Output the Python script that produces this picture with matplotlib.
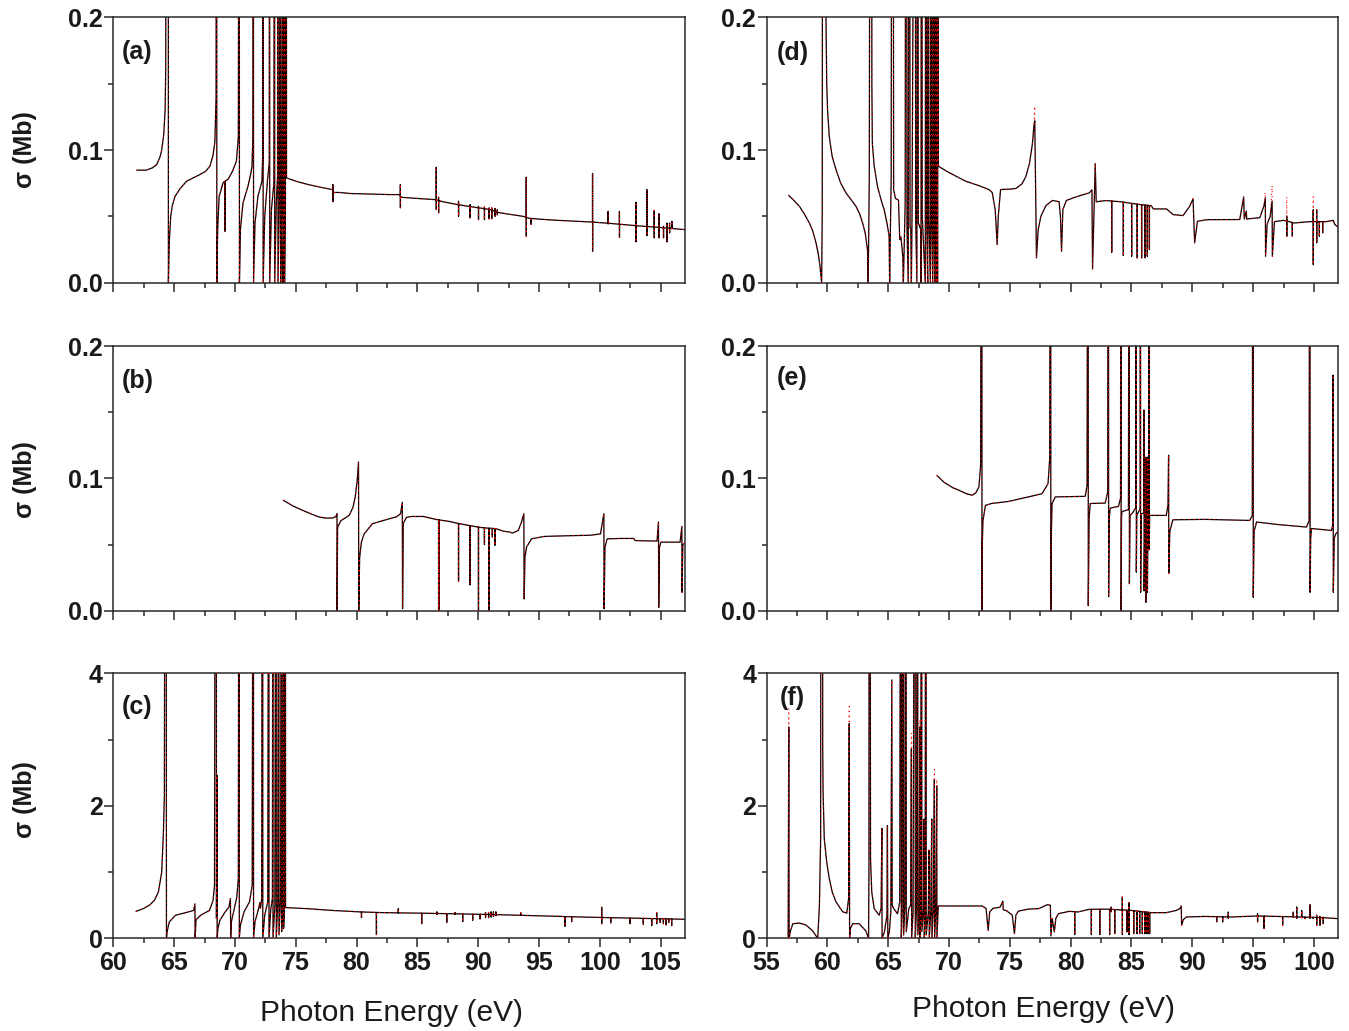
import matplotlib
matplotlib.use('Agg')
import matplotlib.pyplot as plt
import numpy as np
from matplotlib.ticker import MultipleLocator, FormatStrFormatter

plt.rcParams['font.family'] = ['Liberation Sans', 'DejaVu Sans']

# Spectra are stored as nodes (E [eV], sigma [Mb]) along the smooth parts and the
# broad Fano profiles; values above the axis top stand for resonances running off-scale.
# Narrow lines are (E, first extreme, second extreme) and are spliced into the nodes.

# ---- (a) ----
a_nodes = [(61.94, 0.0848), (62.70, 0.0848), (63.20, 0.0865), (63.57, 0.089), (63.85, 0.095),
           (63.98, 0.100), (64.15, 0.112), (64.26, 0.130), (64.31, 0.160), (64.34, 0.5),
           (64.52, 0.5), (64.53, 0.0), (64.60, 0.030), (64.72, 0.050), (64.85, 0.058),
           (65.07, 0.065), (65.50, 0.071), (66.03, 0.0765), (67.12, 0.0815), (67.60, 0.084),
           (67.94, 0.0878), (68.20, 0.096), (68.35, 0.106), (68.45, 0.140), (68.48, 0.5),
           (68.50, 0.5), (68.51, 0.0), (68.58, 0.040), (68.70, 0.065), (69.03, 0.0755),
           (69.44, 0.078), (69.80, 0.084), (70.12, 0.0916), (70.28, 0.110), (70.34, 0.5),
           (70.36, 0.5), (70.37, 0.0), (70.45, 0.040), (70.66, 0.060), (71.07, 0.0727),
           (71.30, 0.082), (71.40, 0.0878), (71.48, 0.110), (71.51, 0.5), (71.52, 0.5),
           (71.53, 0.0), (71.65, 0.045), (71.89, 0.065), (72.22, 0.0765), (72.28, 0.095),
           (72.30, 0.5), (72.31, 0.5), (72.32, 0.0), (72.45, 0.050), (72.67, 0.0765),
           (72.82, 0.090), (72.85, 0.5), (72.86, 0.0), (73.00, 0.055), (73.20, 0.075),
           (73.26, 0.5), (73.27, 0.0), (73.40, 0.060), (73.50, 0.080), (73.53, 0.5),
           (73.54, 0.0), (73.65, 0.060), (73.75, 0.5), (73.76, 0.0), (73.86, 0.062),
           (73.94, 0.5), (73.95, 0.0), (74.02, 0.060), (74.07, 0.5), (74.08, 0.0),
           (74.15, 0.060), (74.21, 0.5), (74.23, 0.5), (74.24, 0.079), (75.00, 0.0765),
           (76.00, 0.074), (77.00, 0.072), (78.00, 0.0702), (78.10, 0.068), (78.60, 0.068),
           (79.50, 0.0672), (81.00, 0.0668), (82.70, 0.0664), (83.55, 0.0664), (83.65, 0.0644),
           (84.50, 0.0638), (85.50, 0.0632), (86.45, 0.0626), (87.10, 0.061), (88.25, 0.0589),
           (89.60, 0.057), (91.00, 0.0551), (91.60, 0.053), (92.60, 0.0515), (93.70, 0.050),
           (94.20, 0.0485), (95.20, 0.0478), (96.50, 0.047), (97.70, 0.0465), (99.20, 0.0458),
           (100.70, 0.0448), (101.95, 0.0438), (103.20, 0.0428), (104.70, 0.0418),
           (105.70, 0.041), (107.00, 0.040)]
a_lines = [(69.17, 0.0387, 0.0387), (78.05, 0.074, 0.061), (83.60, 0.074, 0.0564),
           (86.55, 0.087, 0.0551), (86.74, 0.0645, 0.0526), (88.38, 0.0614, 0.050),
           (89.33, 0.0589, 0.0488), (90.02, 0.0576, 0.0475), (90.51, 0.0571, 0.0475),
           (90.89, 0.0564, 0.0481), (91.11, 0.0564, 0.0481), (91.38, 0.056, 0.050),
           (91.57, 0.055, 0.051), (93.95, 0.0795, 0.035), (94.33, 0.0485, 0.044),
           (99.40, 0.0823, 0.0236), (100.68, 0.0538, 0.0442), (101.61, 0.0538, 0.0342),
           (102.97, 0.0606, 0.0307), (103.87, 0.0702, 0.0355), (104.47, 0.0544, 0.0337),
           (104.86, 0.052, 0.0337), (105.23, 0.0425, 0.0337), (105.51, 0.045, 0.0307),
           (105.73, 0.045, 0.0375), (105.92, 0.0463, 0.0413)]

# ---- (b) ----
b_nodes = [(74.00, 0.0833), (74.80, 0.079), (75.57, 0.0758), (76.30, 0.073), (76.94, 0.0707),
           (77.50, 0.070), (78.03, 0.070), (78.30, 0.0712), (78.39, 0.0733), (78.40, 0.0),
           (78.44, 0.063), (78.71, 0.068), (79.39, 0.072), (79.70, 0.078), (79.89, 0.086),
           (80.05, 0.0985), (80.16, 0.1124), (80.18, 0.0), (80.25, 0.040), (80.40, 0.052),
           (80.62, 0.058), (81.30, 0.0657), (82.40, 0.0687), (83.30, 0.071), (83.62, 0.0733),
           (83.76, 0.082), (83.78, 0.0015), (83.84, 0.066), (84.10, 0.0705), (84.50, 0.0712),
           (85.50, 0.0712), (86.60, 0.0688), (87.60, 0.0675), (88.30, 0.066), (89.25, 0.0644),
           (90.10, 0.063), (90.60, 0.0625), (91.45, 0.062), (92.06, 0.0601), (92.61, 0.0594),
           (92.80, 0.0586), (93.29, 0.0606), (93.56, 0.067), (93.75, 0.0733), (93.78, 0.0089),
           (93.84, 0.040), (93.97, 0.048), (94.38, 0.0543), (95.40, 0.0561), (97.20, 0.0566),
           (99.20, 0.057), (100.05, 0.058), (100.33, 0.0733), (100.35, 0.0015), (100.42, 0.048),
           (100.60, 0.0543), (101.70, 0.0546), (102.78, 0.0546), (102.90, 0.053),
           (103.70, 0.0528), (104.70, 0.0526), (104.82, 0.067), (104.84, 0.0025),
           (104.90, 0.048), (105.02, 0.0518), (106.60, 0.0518), (106.74, 0.0637),
           (106.76, 0.0139), (106.82, 0.050), (107.00, 0.0511)]
b_lines = [(86.74, 0.0, 0.0), (86.78, 0.0, 0.0), (88.38, 0.0222, 0.0222), (89.33, 0.0194, 0.0194),
           (90.02, 0.0, 0.0), (90.51, 0.050, 0.050), (90.89, 0.0, 0.0), (91.16, 0.0556, 0.0556),
           (91.38, 0.0493, 0.0493)]

# ---- (c) ----
c_nodes = [(61.88, 0.408), (62.50, 0.45), (63.03, 0.508), (63.40, 0.58), (63.71, 0.70),
           (63.98, 1.0), (64.12, 1.6), (64.20, 2.16), (64.26, 10), (64.34, 10), (64.37, 0.0),
           (64.42, 0.10), (64.60, 0.246), (65.10, 0.347), (65.80, 0.38), (66.60, 0.42),
           (66.71, 0.52), (66.73, 0.0), (66.80, 0.28), (67.20, 0.35), (67.90, 0.42),
           (68.20, 0.57), (68.32, 0.80), (68.40, 10), (68.47, 10), (68.48, 0.3), (68.52, 2.46),
           (68.54, 0.0), (68.60, 0.15), (68.76, 0.27), (69.20, 0.40), (69.50, 0.47),
           (69.63, 0.60), (69.65, 0.0), (69.70, 0.24), (69.95, 0.45), (70.15, 0.62),
           (70.28, 0.9), (70.33, 10), (70.35, 10), (70.36, 0.0), (70.45, 0.20), (70.75, 0.40),
           (71.20, 0.55), (71.42, 0.80), (71.50, 10), (71.52, 10), (71.53, 0.0), (71.65, 0.25),
           (71.95, 0.45), (72.05, 0.54), (72.10, 0.45), (72.20, 0.60), (72.26, 10),
           (72.28, 10), (72.29, 0.0), (72.45, 0.35), (72.70, 0.55), (72.79, 10), (72.80, 0.0),
           (72.95, 0.45), (73.08, 0.60), (73.12, 10), (73.13, 0.0), (73.28, 0.50),
           (73.39, 10), (73.40, 0.0), (73.52, 0.55), (73.61, 10), (73.62, 0.05), (73.75, 0.60),
           (73.83, 10), (73.84, 0.10), (73.94, 0.55), (73.99, 10), (74.00, 0.15), (74.08, 0.50),
           (74.13, 10), (74.15, 10), (74.16, 0.463), (76.00, 0.447), (78.03, 0.42),
           (80.00, 0.40), (82.00, 0.388), (85.00, 0.38), (88.00, 0.37), (91.50, 0.357),
           (95.00, 0.34), (98.70, 0.32), (102.50, 0.305), (107.00, 0.287)]
c_lines = [(80.40, 0.312, 0.312), (81.63, 0.056, 0.056), (83.43, 0.448, 0.38), (85.35, 0.22, 0.22),
           (86.60, 0.40, 0.36), (87.41, 0.24, 0.24), (88.10, 0.39, 0.36), (88.72, 0.25, 0.25),
           (89.54, 0.27, 0.27), (90.15, 0.29, 0.29), (90.60, 0.39, 0.31), (90.85, 0.39, 0.31),
           (91.05, 0.40, 0.32), (91.25, 0.40, 0.33), (91.45, 0.40, 0.34), (93.49, 0.39, 0.35),
           (97.13, 0.18, 0.18), (97.68, 0.25, 0.30), (100.15, 0.47, 0.22), (100.89, 0.23, 0.23),
           (102.48, 0.22, 0.22), (103.57, 0.21, 0.21), (104.26, 0.19, 0.19), (104.67, 0.39, 0.22),
           (104.96, 0.24, 0.24), (105.22, 0.22, 0.22), (105.45, 0.20, 0.20), (105.66, 0.24, 0.24),
           (105.90, 0.19, 0.19)]

# ---- (d) ----
d_nodes = [(56.83, 0.0657), (57.20, 0.0625), (57.70, 0.0576), (58.10, 0.052), (58.52, 0.045),
           (58.80, 0.039), (59.07, 0.030), (59.25, 0.022), (59.40, 0.0123), (59.53, 0.0),
           (59.58, 0.05), (59.62, 0.5), (59.87, 0.5), (59.89, 0.2), (59.95, 0.15), (60.02, 0.13),
           (60.16, 0.110), (60.40, 0.095), (60.71, 0.0853), (61.10, 0.075), (61.53, 0.0677),
           (62.00, 0.062), (62.35, 0.0576), (62.65, 0.052), (62.90, 0.045), (63.12, 0.037),
           (63.30, 0.025), (63.36, 0.0), (63.45, 0.08), (63.52, 0.5), (63.64, 0.5), (63.66, 0.15),
           (63.70, 0.105), (63.85, 0.088), (64.12, 0.0727), (64.40, 0.063), (64.67, 0.055),
           (64.90, 0.045), (65.08, 0.035), (65.12, 0.0), (65.25, 0.08), (65.30, 0.5),
           (65.40, 0.5), (65.45, 0.070), (65.60, 0.0635), (65.77, 0.0627), (65.85, 0.062),
           (65.95, 0.0325), (66.05, 0.0345), (66.20, 0.020), (66.25, 0.0), (66.40, 0.06),
           (66.45, 0.5), (66.50, 0.5), (66.55, 0.040), (66.65, 0.0), (66.72, 0.5), (66.76, 0.5),
           (66.80, 0.042), (66.86, 0.040), (66.91, 0.0), (66.96, 0.05), (67.19, 0.5),
           (67.22, 0.5), (67.26, 0.05), (67.36, 0.0), (67.40, 0.5), (67.43, 0.5), (67.48, 0.045),
           (67.68, 0.040), (67.70, 0.0), (67.73, 0.5), (67.76, 0.5), (67.80, 0.05), (68.05, 0.0),
           (68.09, 0.5), (68.12, 0.5), (68.16, 0.05), (68.25, 0.0), (68.28, 0.5), (68.30, 0.5),
           (68.34, 0.05), (68.47, 0.0), (68.50, 0.5), (68.52, 0.5), (68.56, 0.05), (68.66, 0.0),
           (68.69, 0.5), (68.71, 0.5), (68.74, 0.05), (68.82, 0.0), (68.85, 0.5), (68.87, 0.5),
           (68.90, 0.05), (68.97, 0.0), (68.99, 0.5), (69.03, 0.5), (69.06, 0.0), (69.10, 0.5),
           (69.11, 0.5), (69.12, 0.0878), (70.00, 0.083), (71.37, 0.0765), (72.50, 0.073),
           (73.28, 0.0702), (73.55, 0.068), (73.80, 0.055), (73.96, 0.0287), (74.05, 0.050),
           (74.24, 0.0702), (75.00, 0.0705), (75.50, 0.071), (76.00, 0.0745), (76.32, 0.080),
           (76.62, 0.090), (76.86, 0.105), (76.98, 0.118), (77.05, 0.122), (77.19, 0.0187),
           (77.33, 0.040), (77.55, 0.050), (77.96, 0.058), (78.50, 0.062), (79.05, 0.061),
           (79.16, 0.050), (79.25, 0.0237), (79.36, 0.055), (79.65, 0.062), (80.55, 0.065),
           (81.53, 0.0677), (81.75, 0.070), (81.80, 0.0103), (82.02, 0.0898), (82.10, 0.061),
           (82.90, 0.0619), (84.10, 0.061), (85.60, 0.059), (86.62, 0.058), (86.80, 0.0556),
           (87.88, 0.0556), (88.43, 0.0513), (89.24, 0.0506), (89.79, 0.0577), (90.06, 0.0632),
           (90.19, 0.030), (90.42, 0.0463), (91.20, 0.0475), (93.90, 0.0476), (94.22, 0.0647),
           (94.27, 0.048), (94.44, 0.054), (94.47, 0.048), (95.55, 0.049), (95.89, 0.058),
           (96.00, 0.064), (96.02, 0.0199), (96.15, 0.044), (96.40, 0.050), (96.56, 0.0616),
           (96.58, 0.0199), (96.75, 0.046), (97.50, 0.047), (98.40, 0.045), (99.60, 0.046),
           (101.00, 0.046), (101.58, 0.047), (101.70, 0.044), (101.95, 0.042)]
d_lines = [(83.37, 0.0229, 0.0229), (84.33, 0.0204, 0.0204), (85.01, 0.0199, 0.0199),
           (85.47, 0.0186, 0.0186), (85.83, 0.0186, 0.0186), (86.12, 0.0186, 0.0186),
           (86.30, 0.0199, 0.0199), (86.47, 0.025, 0.025), (97.76, 0.050, 0.035),
           (98.22, 0.035, 0.035), (99.94, 0.055, 0.0136), (100.22, 0.055, 0.030),
           (100.44, 0.045, 0.035), (100.71, 0.045, 0.0375)]
d_red_peaks = [(77.05, 0.133), (96.00, 0.068), (96.56, 0.0732), (97.76, 0.0647), (99.94, 0.0647)]

# ---- (e) ----
e_nodes = [(69.02, 0.102), (69.60, 0.097), (70.30, 0.093), (70.82, 0.091), (71.40, 0.0885),
           (71.91, 0.0872), (72.20, 0.089), (72.46, 0.0935), (72.60, 0.110), (72.68, 0.5),
           (72.70, 0.5), (72.71, 0.0), (72.74, 0.050), (72.79, 0.068), (73.00, 0.0796),
           (73.50, 0.081), (74.92, 0.0826), (76.30, 0.0855), (77.65, 0.0884), (78.14, 0.096),
           (78.28, 0.115), (78.34, 0.5), (78.36, 0.5), (78.37, 0.0), (78.42, 0.060),
           (78.47, 0.081), (78.74, 0.086), (81.20, 0.0864), (81.35, 0.095), (81.42, 0.5),
           (81.44, 0.5), (81.45, 0.0038), (81.52, 0.070), (81.61, 0.081), (82.84, 0.0813),
           (83.05, 0.090), (83.09, 0.5), (83.11, 0.5), (83.12, 0.0106), (83.17, 0.070),
           (83.25, 0.0775), (83.93, 0.0788), (84.10, 0.085), (84.13, 0.5), (84.14, 0.5),
           (84.15, 0.0), (84.18, 0.070), (84.21, 0.0749), (84.75, 0.0763), (84.81, 0.5),
           (84.82, 0.5), (84.83, 0.0204), (84.88, 0.072), (85.10, 0.074), (85.36, 0.078),
           (85.38, 0.5), (85.39, 0.5), (85.40, 0.0291), (85.44, 0.072), (85.52, 0.0737),
           (85.71, 0.077), (85.73, 0.5), (85.74, 0.5), (85.75, 0.0139), (85.80, 0.073),
           (86.02, 0.074), (86.03, 0.1516), (86.04, 0.015), (86.10, 0.073), (86.16, 0.074),
           (86.17, 0.116), (86.18, 0.0063), (86.23, 0.073), (86.29, 0.074), (86.30, 0.116),
           (86.31, 0.0139), (86.36, 0.073), (86.43, 0.074), (86.44, 0.5), (86.45, 0.5),
           (86.46, 0.046), (86.49, 0.072), (87.86, 0.072), (88.00, 0.080), (88.05, 0.1175),
           (88.07, 0.0283), (88.15, 0.060), (88.40, 0.0687), (91.10, 0.069), (94.72, 0.0682),
           (94.93, 0.072), (94.99, 0.5), (95.00, 0.5), (95.01, 0.0101), (95.08, 0.060),
           (95.28, 0.067), (97.15, 0.065), (99.39, 0.0632), (99.60, 0.068), (99.66, 0.5),
           (99.67, 0.5), (99.68, 0.0139), (99.73, 0.055), (99.80, 0.0621), (101.44, 0.0606),
           (101.55, 0.065), (101.57, 0.178), (101.59, 0.0139), (101.67, 0.055), (101.79, 0.058),
           (101.95, 0.0595)]
e_lines = []

# ---- (f) ----
f_nodes = [(56.78, 0.0), (56.83, 3.19), (56.86, 0.0), (56.95, 0.10), (57.16, 0.22), (57.70, 0.23),
           (58.25, 0.20), (58.80, 0.11), (59.21, 0.0), (59.35, 0.50), (59.45, 1.50), (59.48, 10),
           (59.60, 10), (59.62, 2.9), (59.65, 2.21), (59.75, 1.50), (59.95, 1.15), (60.16, 0.90),
           (60.40, 0.70), (60.71, 0.55), (61.26, 0.40), (61.60, 0.38), (61.75, 0.60),
           (61.80, 3.24), (61.83, 0.0), (61.90, 0.15), (62.08, 0.22), (62.62, 0.22),
           (63.17, 0.11), (63.39, 0.0), (63.42, 1.0), (63.44, 10), (63.50, 10), (63.55, 1.2),
           (63.65, 0.70), (63.85, 0.45), (64.26, 0.347), (64.42, 0.45), (64.48, 1.66),
           (64.50, 0.0), (64.70, 0.10), (64.90, 0.35), (64.94, 1.70), (64.97, 0.0),
           (65.10, 0.10), (65.22, 0.40), (65.30, 3.90), (65.33, 0.50), (65.45, 0.45),
           (65.77, 0.37), (65.95, 0.55), (66.04, 10), (66.06, 10), (66.08, 0.0), (66.15, 0.40),
           (66.23, 10), (66.25, 10), (66.27, 0.05), (66.38, 0.50), (66.45, 10), (66.47, 10),
           (66.49, 0.10), (66.70, 0.45), (66.85, 0.50), (66.91, 2.86), (66.93, 0.0),
           (67.05, 0.40), (67.19, 10), (67.21, 10), (67.23, 0.0), (67.33, 0.45), (67.40, 10),
           (67.42, 10), (67.44, 0.05), (67.55, 0.40), (67.60, 3.18), (67.62, 0.0), (67.68, 0.40),
           (67.73, 10), (67.75, 10), (67.77, 0.10), (67.90, 0.45), (67.95, 1.80), (67.97, 0.0),
           (68.04, 0.35), (68.09, 10), (68.11, 10), (68.13, 0.05), (68.30, 0.40), (68.36, 1.33),
           (68.38, 0.0), (68.50, 0.40), (68.58, 1.80), (68.60, 0.0), (68.72, 0.45),
           (68.80, 2.40), (68.82, 0.0), (68.92, 0.45), (68.99, 2.30), (69.01, 0.0),
           (69.08, 0.30), (69.12, 0.488), (70.50, 0.488), (72.73, 0.488), (73.05, 0.45),
           (73.22, 0.12), (73.35, 0.40), (73.60, 0.45), (74.20, 0.47), (74.43, 0.56),
           (74.46, 0.43), (74.70, 0.42), (75.20, 0.35), (75.38, 0.07), (75.50, 0.35),
           (75.70, 0.41), (76.50, 0.44), (77.38, 0.448), (78.10, 0.508), (78.33, 0.50),
           (78.38, 0.035), (78.48, 0.30), (78.66, 0.096), (78.78, 0.30), (79.00, 0.372),
           (79.90, 0.407), (80.58, 0.397), (81.54, 0.437), (83.00, 0.44), (84.00, 0.43),
           (85.00, 0.42), (86.63, 0.387), (87.86, 0.387), (88.68, 0.42), (88.98, 0.45),
           (89.09, 0.488), (89.12, 0.196), (89.25, 0.28), (89.50, 0.322), (91.00, 0.33),
           (93.20, 0.322), (95.30, 0.337), (97.00, 0.33), (99.30, 0.32), (100.90, 0.31),
           (101.95, 0.297)]
f_lines = [(80.33, 0.055, 0.055), (81.70, 0.055, 0.055), (82.39, 0.055, 0.055),
           (83.20, 0.055, 0.055), (83.34, 0.473, 0.40), (83.62, 0.07, 0.07),
           (84.25, 0.624, 0.055), (84.62, 0.096, 0.096), (84.80, 0.538, 0.055),
           (85.18, 0.07, 0.07), (85.45, 0.07, 0.07), (85.67, 0.07, 0.07), (85.89, 0.07, 0.07),
           (86.08, 0.07, 0.07), (86.22, 0.07, 0.07), (86.36, 0.07, 0.07), (86.49, 0.07, 0.07),
           (92.00, 0.247, 0.247), (92.49, 0.247, 0.247), (92.96, 0.397, 0.30),
           (95.36, 0.372, 0.247), (95.90, 0.146, 0.146), (97.42, 0.196, 0.196),
           (98.30, 0.397, 0.32), (98.58, 0.473, 0.30), (98.99, 0.42, 0.31),
           (99.26, 0.297, 0.297), (99.67, 0.508, 0.30), (99.94, 0.297, 0.297),
           (100.22, 0.35, 0.196), (100.49, 0.33, 0.196), (100.76, 0.32, 0.22)]
f_red_peaks = [(56.83, 3.47), (61.80, 3.50), (66.91, 3.10), (67.60, 3.30), (68.80, 2.55),
               (68.99, 2.40)]

panel_tags = ['(a)', '(b)', '(c)', '(d)', '(e)', '(f)']
left_xlim = (60, 107)
right_xlim = (55, 101.95)
tag_pos = [(0.015, 0.870), (0.015, 0.868), (0.015, 0.874),
           (0.018, 0.864), (0.018, 0.880), (0.024, 0.905)]


def trace(nodes, lines, step=0.004):
    ne, ns = map(np.array, zip(*nodes))
    e, s = list(ne), list(ns)
    for x0, v1, v2 in lines:
        base = np.interp(x0, ne, ns)
        e += [x0 - step, x0, x0 + step, x0 + 2 * step]
        s += [base, v1, v2, base]
    order = np.argsort(e, kind='stable')
    return np.array(e)[order], np.array(s)[order]


def red_copy(e, s, peaks):
    r = s.copy()
    for x0, v in peaks:
        idx = np.where(np.abs(e - x0) < 0.006)[0]
        if len(idx):
            r[idx[np.argmax(s[idx])]] = v
    return r


fig = plt.figure(figsize=(13.49, 10.31), dpi=100)
W, H = 1349, 1031
cols = [(113.3, 571.7), (766.5, 571.2)]
rows = [(17.3, 282.7), (346.0, 610.7), (673.3, 938.3)]

data = [(a_nodes, a_lines, []), (b_nodes, b_lines, []), (c_nodes, c_lines, []),
        (d_nodes, d_lines, d_red_peaks), (e_nodes, e_lines, []), (f_nodes, f_lines, f_red_peaks)]

for k, (nodes, lines, peaks) in enumerate(data):
    col, row = k // 3, k % 3
    x0, w = cols[col]
    top, bot = rows[row]
    ax = fig.add_axes([x0 / W, 1 - bot / H, w / W, (bot - top) / H])

    e, s = trace(nodes, lines)
    ax.plot(e, s, color='black', lw=0.9, zorder=2)
    ax.plot(e, red_copy(e, s, peaks), color='red', lw=0.8, ls=(0, (1, 3.5)), zorder=3)

    ax.set_xlim(left_xlim if col == 0 else right_xlim)
    ax.xaxis.set_major_locator(MultipleLocator(5))
    ax.xaxis.set_minor_locator(MultipleLocator(2.5))
    if row == 2:
        ax.set_ylim(0, 4)
        ax.yaxis.set_major_locator(MultipleLocator(2))
        ax.yaxis.set_minor_locator(MultipleLocator(1))
        ax.yaxis.set_major_formatter(FormatStrFormatter('%d'))
    else:
        ax.set_ylim(0, 0.2)
        ax.yaxis.set_major_locator(MultipleLocator(0.1))
        ax.yaxis.set_minor_locator(MultipleLocator(0.05))
        ax.yaxis.set_major_formatter(FormatStrFormatter('%.1f'))
        ax.tick_params(axis='x', labelbottom=False)

    for sp in ax.spines.values():
        sp.set_color('#2a2a2a')
        sp.set_linewidth(1.1)
    ax.tick_params(which='major', direction='out', length=6.5, width=1.1, color='#2a2a2a',
                   labelsize=18, pad=3)
    ax.tick_params(which='minor', direction='out', length=3.5, width=1.1, color='#2a2a2a')
    ax.tick_params(axis='y', which='major', pad=1)
    for lab in ax.get_xticklabels() + ax.get_yticklabels():
        lab.set_fontweight('bold')
        lab.set_color('#1a1a1a')

    tx, ty = tag_pos[k]
    ax.text(tx, ty, panel_tags[k], transform=ax.transAxes, ha='left', va='center',
            fontsize=18, fontweight='bold', color='#1a1a1a')

for yc in (150, 480, 800):
    fig.text(25 / W, 1 - yc / H, r'σ (Mb)', rotation=90, ha='center', va='center',
             fontsize=18, fontweight='bold', color='#1a1a1a')

fig.text(392 / W, 1 - 1013 / H, 'Photon Energy (eV)', ha='center', va='center',
         fontsize=21.5, color='#1a1a1a')
fig.text(1043 / W, 1 - 1009 / H, 'Photon Energy (eV)', ha='center', va='center',
         fontsize=21.5, color='#1a1a1a')

fig.savefig('out.png', dpi=100)
